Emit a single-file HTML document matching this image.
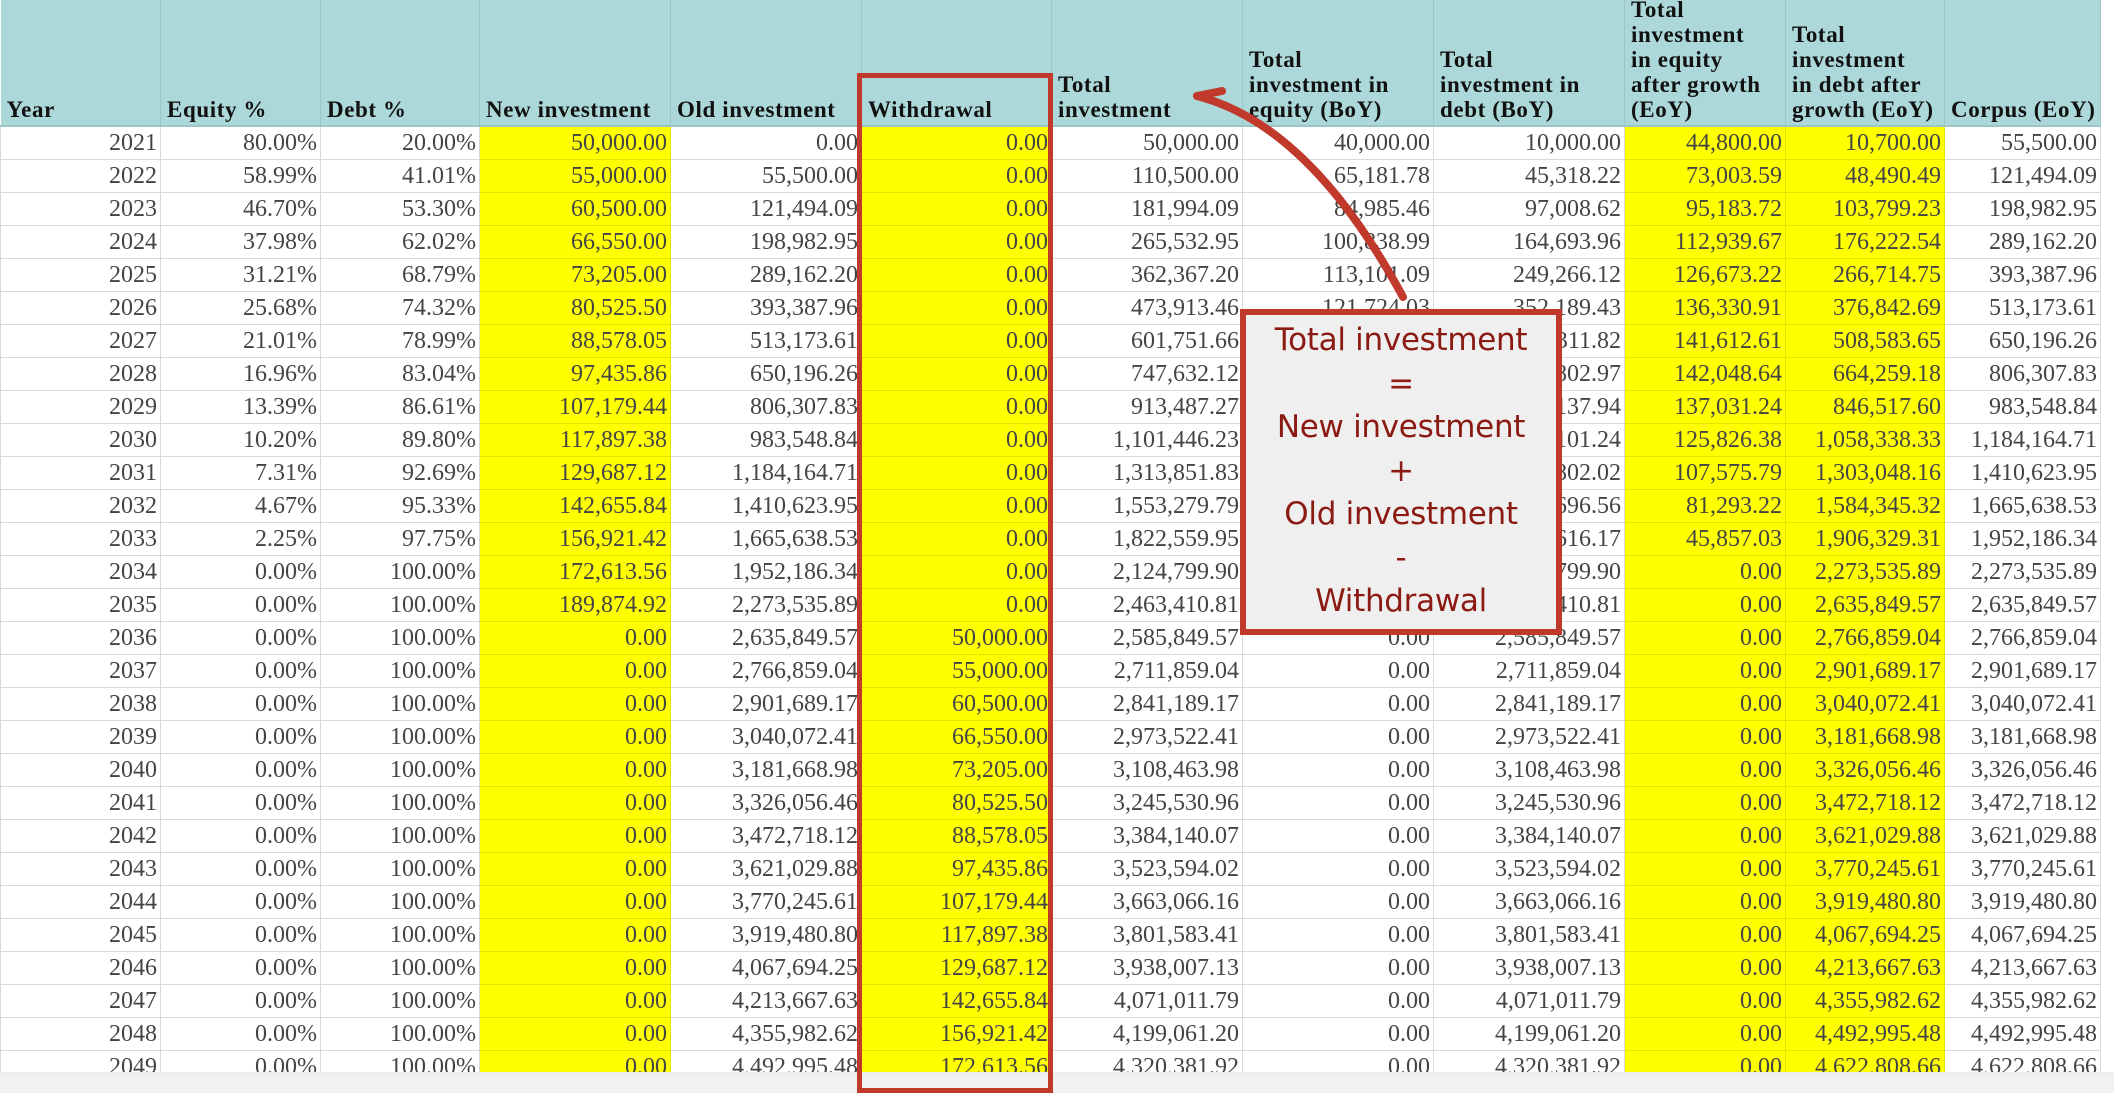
<!DOCTYPE html>
<html><head><meta charset="utf-8">
<style>
html,body{margin:0;padding:0;width:2114px;height:1078px;overflow:hidden;background:#f2f2f2;}
#wrap{position:absolute;left:0;top:0;width:2114px;height:1072px;overflow:hidden;background:#fff;}
table{border-collapse:collapse;table-layout:fixed;font-family:"Liberation Serif",serif;color:#444;}
th{background:#acd8d9;font-weight:bold;font-size:23px;letter-spacing:0.6px;line-height:25px;text-align:left;vertical-align:bottom;padding:0 2px 3px 6px;border-right:1px solid #9cc5c6;border-bottom:2px solid #9cc5c6;color:#111;white-space:nowrap;overflow:hidden;}
th div{height:122px;display:flex;flex-direction:column;justify-content:flex-end;overflow:hidden;}
td{height:32px;font-size:24px;text-align:right;padding:0 3px 0 0;border:1px solid #d9d9d9;white-space:nowrap;overflow:hidden;}
td.y{background:#ffff00;border-color:#e4e400;}
#strip{position:absolute;left:0;top:1072px;width:2114px;height:6px;background:#efefef;}
#redcol{position:absolute;left:857px;top:73px;width:186px;height:1010px;border:5px solid #c0392b;box-sizing:content-box;}
#box{position:absolute;left:1240px;top:309px;width:310px;height:310px;background:#efefef;border:6px solid #c0392b;text-align:center;font-family:"DejaVu Sans",sans-serif;color:#8b1a12;font-size:31px;line-height:43.5px;padding-top:4px;box-sizing:content-box;letter-spacing:-0.3px;}
</style></head><body>
<div id="wrap">
<table>
<colgroup><col style="width:160px"><col style="width:160px"><col style="width:159px"><col style="width:191px"><col style="width:191px"><col style="width:190px"><col style="width:191px"><col style="width:191px"><col style="width:191px"><col style="width:161px"><col style="width:159px"><col style="width:156px"></colgroup>
<tr><th><div>Year</div></th><th><div>Equity %</div></th><th><div>Debt %</div></th><th><div>New investment</div></th><th><div>Old investment</div></th><th><div>Withdrawal</div></th><th><div><span>Total</span><span>investment</span></div></th><th><div><span>Total</span><span>investment in</span><span>equity (BoY)</span></div></th><th><div><span>Total</span><span>investment in</span><span>debt (BoY)</span></div></th><th><div><span>Total</span><span>investment</span><span>in equity</span><span>after growth</span><span>(EoY)</span></div></th><th><div><span>Total</span><span>investment</span><span>in debt after</span><span>growth (EoY)</span></div></th><th><div>Corpus (EoY)</div></th></tr>
<tr><td>2021</td><td>80.00%</td><td>20.00%</td><td class="y">50,000.00</td><td>0.00</td><td class="y">0.00</td><td>50,000.00</td><td>40,000.00</td><td>10,000.00</td><td class="y">44,800.00</td><td class="y">10,700.00</td><td>55,500.00</td></tr>
<tr><td>2022</td><td>58.99%</td><td>41.01%</td><td class="y">55,000.00</td><td>55,500.00</td><td class="y">0.00</td><td>110,500.00</td><td>65,181.78</td><td>45,318.22</td><td class="y">73,003.59</td><td class="y">48,490.49</td><td>121,494.09</td></tr>
<tr><td>2023</td><td>46.70%</td><td>53.30%</td><td class="y">60,500.00</td><td>121,494.09</td><td class="y">0.00</td><td>181,994.09</td><td>84,985.46</td><td>97,008.62</td><td class="y">95,183.72</td><td class="y">103,799.23</td><td>198,982.95</td></tr>
<tr><td>2024</td><td>37.98%</td><td>62.02%</td><td class="y">66,550.00</td><td>198,982.95</td><td class="y">0.00</td><td>265,532.95</td><td>100,838.99</td><td>164,693.96</td><td class="y">112,939.67</td><td class="y">176,222.54</td><td>289,162.20</td></tr>
<tr><td>2025</td><td>31.21%</td><td>68.79%</td><td class="y">73,205.00</td><td>289,162.20</td><td class="y">0.00</td><td>362,367.20</td><td>113,101.09</td><td>249,266.12</td><td class="y">126,673.22</td><td class="y">266,714.75</td><td>393,387.96</td></tr>
<tr><td>2026</td><td>25.68%</td><td>74.32%</td><td class="y">80,525.50</td><td>393,387.96</td><td class="y">0.00</td><td>473,913.46</td><td>121,724.03</td><td>352,189.43</td><td class="y">136,330.91</td><td class="y">376,842.69</td><td>513,173.61</td></tr>
<tr><td>2027</td><td>21.01%</td><td>78.99%</td><td class="y">88,578.05</td><td>513,173.61</td><td class="y">0.00</td><td>601,751.66</td><td>126,439.84</td><td>475,311.82</td><td class="y">141,612.61</td><td class="y">508,583.65</td><td>650,196.26</td></tr>
<tr><td>2028</td><td>16.96%</td><td>83.04%</td><td class="y">97,435.86</td><td>650,196.26</td><td class="y">0.00</td><td>747,632.12</td><td>126,829.15</td><td>620,802.97</td><td class="y">142,048.64</td><td class="y">664,259.18</td><td>806,307.83</td></tr>
<tr><td>2029</td><td>13.39%</td><td>86.61%</td><td class="y">107,179.44</td><td>806,307.83</td><td class="y">0.00</td><td>913,487.27</td><td>122,349.33</td><td>791,137.94</td><td class="y">137,031.24</td><td class="y">846,517.60</td><td>983,548.84</td></tr>
<tr><td>2030</td><td>10.20%</td><td>89.80%</td><td class="y">117,897.38</td><td>983,548.84</td><td class="y">0.00</td><td>1,101,446.23</td><td>112,345.00</td><td>989,101.24</td><td class="y">125,826.38</td><td class="y">1,058,338.33</td><td>1,184,164.71</td></tr>
<tr><td>2031</td><td>7.31%</td><td>92.69%</td><td class="y">129,687.12</td><td>1,184,164.71</td><td class="y">0.00</td><td>1,313,851.83</td><td>96,049.81</td><td>1,217,802.02</td><td class="y">107,575.79</td><td class="y">1,303,048.16</td><td>1,410,623.95</td></tr>
<tr><td>2032</td><td>4.67%</td><td>95.33%</td><td class="y">142,655.84</td><td>1,410,623.95</td><td class="y">0.00</td><td>1,553,279.79</td><td>72,583.23</td><td>1,480,696.56</td><td class="y">81,293.22</td><td class="y">1,584,345.32</td><td>1,665,638.53</td></tr>
<tr><td>2033</td><td>2.25%</td><td>97.75%</td><td class="y">156,921.42</td><td>1,665,638.53</td><td class="y">0.00</td><td>1,822,559.95</td><td>40,943.78</td><td>1,781,616.17</td><td class="y">45,857.03</td><td class="y">1,906,329.31</td><td>1,952,186.34</td></tr>
<tr><td>2034</td><td>0.00%</td><td>100.00%</td><td class="y">172,613.56</td><td>1,952,186.34</td><td class="y">0.00</td><td>2,124,799.90</td><td>0.00</td><td>2,124,799.90</td><td class="y">0.00</td><td class="y">2,273,535.89</td><td>2,273,535.89</td></tr>
<tr><td>2035</td><td>0.00%</td><td>100.00%</td><td class="y">189,874.92</td><td>2,273,535.89</td><td class="y">0.00</td><td>2,463,410.81</td><td>0.00</td><td>2,463,410.81</td><td class="y">0.00</td><td class="y">2,635,849.57</td><td>2,635,849.57</td></tr>
<tr><td>2036</td><td>0.00%</td><td>100.00%</td><td class="y">0.00</td><td>2,635,849.57</td><td class="y">50,000.00</td><td>2,585,849.57</td><td>0.00</td><td>2,585,849.57</td><td class="y">0.00</td><td class="y">2,766,859.04</td><td>2,766,859.04</td></tr>
<tr><td>2037</td><td>0.00%</td><td>100.00%</td><td class="y">0.00</td><td>2,766,859.04</td><td class="y">55,000.00</td><td>2,711,859.04</td><td>0.00</td><td>2,711,859.04</td><td class="y">0.00</td><td class="y">2,901,689.17</td><td>2,901,689.17</td></tr>
<tr><td>2038</td><td>0.00%</td><td>100.00%</td><td class="y">0.00</td><td>2,901,689.17</td><td class="y">60,500.00</td><td>2,841,189.17</td><td>0.00</td><td>2,841,189.17</td><td class="y">0.00</td><td class="y">3,040,072.41</td><td>3,040,072.41</td></tr>
<tr><td>2039</td><td>0.00%</td><td>100.00%</td><td class="y">0.00</td><td>3,040,072.41</td><td class="y">66,550.00</td><td>2,973,522.41</td><td>0.00</td><td>2,973,522.41</td><td class="y">0.00</td><td class="y">3,181,668.98</td><td>3,181,668.98</td></tr>
<tr><td>2040</td><td>0.00%</td><td>100.00%</td><td class="y">0.00</td><td>3,181,668.98</td><td class="y">73,205.00</td><td>3,108,463.98</td><td>0.00</td><td>3,108,463.98</td><td class="y">0.00</td><td class="y">3,326,056.46</td><td>3,326,056.46</td></tr>
<tr><td>2041</td><td>0.00%</td><td>100.00%</td><td class="y">0.00</td><td>3,326,056.46</td><td class="y">80,525.50</td><td>3,245,530.96</td><td>0.00</td><td>3,245,530.96</td><td class="y">0.00</td><td class="y">3,472,718.12</td><td>3,472,718.12</td></tr>
<tr><td>2042</td><td>0.00%</td><td>100.00%</td><td class="y">0.00</td><td>3,472,718.12</td><td class="y">88,578.05</td><td>3,384,140.07</td><td>0.00</td><td>3,384,140.07</td><td class="y">0.00</td><td class="y">3,621,029.88</td><td>3,621,029.88</td></tr>
<tr><td>2043</td><td>0.00%</td><td>100.00%</td><td class="y">0.00</td><td>3,621,029.88</td><td class="y">97,435.86</td><td>3,523,594.02</td><td>0.00</td><td>3,523,594.02</td><td class="y">0.00</td><td class="y">3,770,245.61</td><td>3,770,245.61</td></tr>
<tr><td>2044</td><td>0.00%</td><td>100.00%</td><td class="y">0.00</td><td>3,770,245.61</td><td class="y">107,179.44</td><td>3,663,066.16</td><td>0.00</td><td>3,663,066.16</td><td class="y">0.00</td><td class="y">3,919,480.80</td><td>3,919,480.80</td></tr>
<tr><td>2045</td><td>0.00%</td><td>100.00%</td><td class="y">0.00</td><td>3,919,480.80</td><td class="y">117,897.38</td><td>3,801,583.41</td><td>0.00</td><td>3,801,583.41</td><td class="y">0.00</td><td class="y">4,067,694.25</td><td>4,067,694.25</td></tr>
<tr><td>2046</td><td>0.00%</td><td>100.00%</td><td class="y">0.00</td><td>4,067,694.25</td><td class="y">129,687.12</td><td>3,938,007.13</td><td>0.00</td><td>3,938,007.13</td><td class="y">0.00</td><td class="y">4,213,667.63</td><td>4,213,667.63</td></tr>
<tr><td>2047</td><td>0.00%</td><td>100.00%</td><td class="y">0.00</td><td>4,213,667.63</td><td class="y">142,655.84</td><td>4,071,011.79</td><td>0.00</td><td>4,071,011.79</td><td class="y">0.00</td><td class="y">4,355,982.62</td><td>4,355,982.62</td></tr>
<tr><td>2048</td><td>0.00%</td><td>100.00%</td><td class="y">0.00</td><td>4,355,982.62</td><td class="y">156,921.42</td><td>4,199,061.20</td><td>0.00</td><td>4,199,061.20</td><td class="y">0.00</td><td class="y">4,492,995.48</td><td>4,492,995.48</td></tr>
<tr><td>2049</td><td>0.00%</td><td>100.00%</td><td class="y">0.00</td><td>4,492,995.48</td><td class="y">172,613.56</td><td>4,320,381.92</td><td>0.00</td><td>4,320,381.92</td><td class="y">0.00</td><td class="y">4,622,808.66</td><td>4,622,808.66</td></tr>
</table>
</div>
<div id="strip"></div>
<div id="redcol"></div>
<svg style="position:absolute;left:0;top:0" width="2114" height="1078">
<path d="M1403 297 Q1310 125 1197 96" fill="none" stroke="#c0392b" stroke-width="8" stroke-linecap="round"/>
<path d="M1197 96 L1222 91" fill="none" stroke="#c0392b" stroke-width="8" stroke-linecap="round"/>
</svg>
<div id="box">Total investment<br>=<br>New investment<br>+<br>Old investment<br>-<br>Withdrawal</div>
</body></html>
